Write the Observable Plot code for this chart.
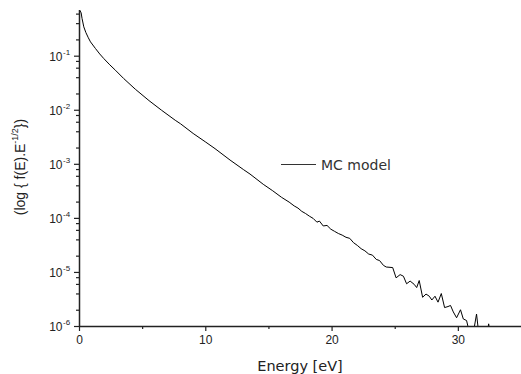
<!DOCTYPE html>
<html><head><meta charset="utf-8">
<script src="https://cdn.jsdelivr.net/npm/d3@7"></script>
<script src="https://cdn.jsdelivr.net/npm/@observablehq/plot@0.6"></script>
<style>body{margin:0;background:#fff} svg{display:block}</style>
</head><body><div id="chart"></div>
<script>
// Energy (eV)
const energy = [0.05, 0.13, 0.2, 0.34, 0.5, 0.7, 0.87, 1.26, 1.6, 1.92, 2.4, 2.84, 3.5, 4.42, 5.5, 6.5, 7.58, 8.0, 9.0, 10.0,
  10.73, 11.92, 13.0, 13.5, 14.55, 15.3, 16.0, 16.6, 17.0, 17.3, 17.6, 17.9, 18.2, 18.5, 18.8, 19.0, 19.3, 19.6, 19.9, 20.2,
  20.5, 20.8, 21.1, 21.4, 21.7, 22.0, 22.3, 22.6, 22.9, 23.2, 23.5, 23.76, 24.07, 24.29, 24.8, 25.07, 25.39, 25.65, 25.9, 26.18,
  26.5, 26.7, 26.9, 27.17, 27.44, 27.7, 27.9, 28.15, 28.39, 28.65, 28.91, 29.18, 29.38, 29.6, 29.86, 30.17, 30.39, 30.65, 30.86, 31.2,
  31.44, 31.6, 32.3, 32.4, 32.5];
// f(E)·E^-1/2 (values below 1e-6 fall off the bottom of the frame)
const fvalue = [0.692, 0.631, 0.501, 0.349, 0.275, 0.219, 0.184, 0.139, 0.110, 0.0906, 0.0692, 0.0551, 0.0386, 0.0245, 0.0151, 0.0100, 0.00653, 0.00562, 0.00372, 0.00257,
  0.00195, 0.00120, 7.94e-4, 6.61e-4, 4.27e-4, 3.24e-4, 2.45e-4, 2.00e-4, 1.70e-4, 1.55e-4, 1.35e-4, 1.23e-4, 1.10e-4, 1.00e-4, 8.51e-5, 8.91e-5, 7.24e-5, 7.41e-5, 6.31e-5, 5.75e-5,
  5.25e-5, 4.90e-5, 4.47e-5, 4.27e-5, 3.55e-5, 3.16e-5, 2.75e-5, 2.51e-5, 2.19e-5, 2.09e-5, 1.74e-5, 1.66e-5, 1.35e-5, 1.26e-5, 1.23e-5, 7.94e-6, 9.12e-6, 8.51e-6, 6.17e-6, 6.92e-6,
  6.03e-6, 5.25e-6, 7.08e-6, 3.47e-6, 3.98e-6, 3.63e-6, 3.09e-6, 3.63e-6, 2.82e-6, 4.07e-6, 2.24e-6, 2.34e-6, 2.45e-6, 1.86e-6, 1.45e-6, 2.04e-6, 1.38e-6, 1.29e-6, 8e-7, 8e-7,
  1.70e-6, 8e-7, 8e-7, 1.12e-6, 8e-7];

const xMajor = [0, 10, 20, 30];
const xMinor = [5, 15, 25];
const yMajor = [1e-1, 1e-2, 1e-3, 1e-4, 1e-5, 1e-6];
const yExp = ["-1", "-2", "-3", "-4", "-5", "-6"];
const yMinorMantissa = [2, 4, 6, 8];
const seriesName = "MC model";
const xTitle = "Energy [eV]";

const data = energy.map((e, i) => ({e, v: fvalue[i]}));
const yMinor = [];
for (const d of [1e-6, 1e-5, 1e-4, 1e-3, 1e-2, 1e-1]) for (const m of yMinorMantissa) if (m * d <= 0.7) yMinor.push(m * d);

const ink = "#222";
const tickFont = "'Liberation Sans', Arial, sans-serif";
const titleFont = "'DejaVu Sans', Verdana, sans-serif";

const svgEl = Plot.plot({
  width: 521, height: 374,
  marginLeft: 79, marginRight: 0, marginTop: 10, marginBottom: 48,
  x: {domain: [0, 35]},
  y: {type: "log", domain: [1e-6, 0.7]},
  style: {background: "white", color: ink, fontFamily: tickFont},
  marks: [
    Plot.line(data, {x: "e", y: "v", stroke: "black", strokeWidth: 1, clip: true}),
    Plot.axisX(xMajor, {tickSize: 5, tickPadding: 4, fontSize: 12, fontFamily: tickFont, tickFormat: d => String(d), label: null, stroke: ink, strokeWidth: 1.2}),
    Plot.axisX(xMinor, {tickSize: 3, tickFormat: () => "", label: null, stroke: ink, strokeWidth: 1.2}),
    Plot.axisY(yMajor, {tickSize: 5, tickFormat: () => "", label: null, stroke: ink, strokeWidth: 1.2}),
    Plot.axisY(yMinor, {tickSize: 3, tickFormat: () => "", label: null, stroke: ink, strokeWidth: 1.2}),
    Plot.text(yMajor, {frameAnchor: "left", y: d => d, text: () => "10", textAnchor: "end", dx: -17, dy: 1, fontSize: 12, fontFamily: tickFont, fill: ink}),
    Plot.text(yMajor, {frameAnchor: "left", y: d => d, text: (d, i) => yExp[i], textAnchor: "start", dx: -16.5, dy: -4, fontSize: 8, fontFamily: tickFont, fill: ink}),
    Plot.ruleX([0], {stroke: ink, strokeWidth: 1.5}),
    Plot.ruleY([1e-6], {stroke: ink, strokeWidth: 1.5})
  ]
});

const svg = d3.select(svgEl);
// legend
svg.append("line").attr("x1", 281).attr("x2", 316).attr("y1", 164.5).attr("y2", 164.5)
  .attr("stroke", "#333").attr("stroke-width", 1.2);
svg.append("text").attr("x", 321).attr("y", 164.5).attr("dominant-baseline", "central").attr("text-anchor", "start")
  .attr("font-family", titleFont).attr("font-size", 14).attr("fill", "#333")
  .text(seriesName);
// x title
svg.append("text").attr("x", 300).attr("y", 366).attr("text-anchor", "middle").attr("dominant-baseline", "central")
  .attr("font-family", titleFont).attr("font-size", 14.5).attr("fill", ink)
  .text(xTitle);
// y title with superscript
const yt = svg.append("text").attr("transform", "translate(20,167) rotate(-90)")
  .attr("text-anchor", "middle").attr("dominant-baseline", "central")
  .attr("font-family", tickFont).attr("font-size", 14).attr("fill", ink);
yt.append("tspan").text("(log { f(E).E");
yt.append("tspan").attr("dy", -5).attr("font-size", 9).text("-1/2");
yt.append("tspan").attr("dy", 5).text("})");

document.getElementById("chart").appendChild(svgEl);
</script>
</body></html>
